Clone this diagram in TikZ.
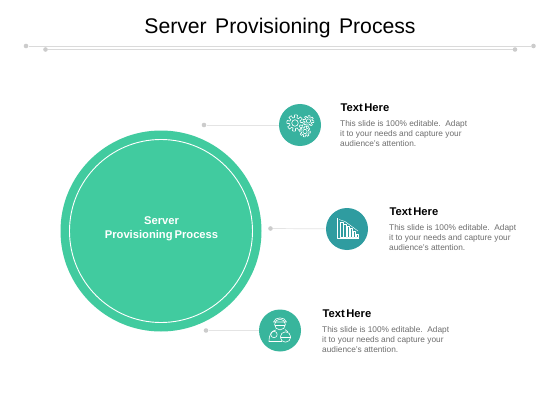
\documentclass[tikz,border=0pt]{standalone}
\usepackage{fontspec}
\setmainfont{Liberation Sans}
\newcommand{\gearicon}[4]{% cx cy r teeth
  \draw[iconline] plot[samples=121,domain=0:360] ({#1+#3*(1+0.2*sign(sin(\x*#4+30)))*cos(\x)},{#2+#3*(1+0.2*sign(sin(\x*#4+30)))*sin(\x)});
  \draw[iconline] (#1,#2) circle[radius=#3*0.48];
}
\tikzset{
  x=1pt,y=-1pt,
  guide/.style={draw=guidegray,line width=0.8pt},
  linkline/.style={draw=linkgray,line width=0.7pt},
  guidedot/.style={circle,fill=dotgray,inner sep=0pt,minimum size=4.6pt},
  hub/.style={circle,inner sep=0pt,minimum size=42pt},
  heading/.style={anchor=west,inner sep=0pt,font=\bfseries\fontsize{11.2}{13}\selectfont,text=black},
  body/.style={anchor=north west,inner sep=0pt,align=left,font=\fontsize{8.3}{10.3}\selectfont,text=bodygray},
  iconline/.style={draw=white,line width=0.6pt,line join=round},
}
\definecolor{guidegray}{HTML}{DADADA}
\definecolor{linkgray}{HTML}{E4E4E4}
\definecolor{dotgray}{HTML}{CCCCCC}
\definecolor{bigteal}{HTML}{41CB9F}
\definecolor{hubA}{HTML}{38B29F}
\definecolor{hubB}{HTML}{2F9CA0}
\definecolor{hubC}{HTML}{38B59C}
\definecolor{bodygray}{HTML}{6E6E6E}
\begin{document}
\begin{tikzpicture}
\useasboundingbox (0,0) rectangle (560,420);
\fill[white] (0,0) rectangle (560,420);
% title
\node[inner sep=0pt,font=\fontsize{21.2}{24}\selectfont,text=black] (title) at (280,28.3) {Server\hspace{2.5pt} Provisioning\hspace{2.5pt} Process};
% guides
\node[guidedot] (gl1) at (26,46) {};
\node[guidedot] (gr1) at (533.5,46) {};
\node[guidedot] (gl2) at (45.5,49.5) {};
\node[guidedot] (gr2) at (515,49.5) {};
\draw[guide] (gl1) -- (gr1);
\draw[guide] (gl2) -- (gr2);
% big circle
\node[circle,fill=bigteal,inner sep=0pt,minimum size=201pt] (big) at (161,231) {};
\node[circle,draw=white,line width=0.9pt,inner sep=0pt,minimum size=183pt] (bigin) at (161,231) {};
\node[inner sep=0pt,align=center,text=white,font=\bfseries\fontsize{11.2}{14}\selectfont] (bigtxt) at (161.5,228.8) {Server\\Provisioning\hspace{-1.2pt} Process};
% hubs and links
\node[guidedot] (d1) at (204,125) {};
\node[guidedot] (d2) at (270.5,228.5) {};
\node[guidedot] (d3) at (206,330.5) {};
\node[hub,fill=hubA] (h1) at (300,125) {};
\node[hub,fill=hubB] (h2) at (347,229) {};
\node[hub,fill=hubC] (h3) at (280,330.5) {};
\draw[linkline] (d1) -- (h1);
\draw[linkline] (d2) -- (h2);
\draw[linkline] (d3) -- (h3);
% texts
\node[heading] (t1) at (340.5,107.5) {Text\hspace{-1.6pt} Here};
\node[body] (b1) at (340,119.8) {This slide is 100\% editable.\ \ Adapt\\it to your needs and capture your\\audience's attention.};
\node[heading] (t2) at (389.5,211.5) {Text\hspace{-1.6pt} Here};
\node[body] (b2) at (389,223.8) {This slide is 100\% editable.\ \ Adapt\\it to your needs and capture your\\audience's attention.};
\node[heading] (t3) at (322.5,313.5) {Text\hspace{-1.6pt} Here};
\node[body] (b3) at (322,325.8) {This slide is 100\% editable.\ \ Adapt\\it to your needs and capture your\\audience's attention.};
% gear icon
\gearicon{295}{123}{6.8}{8}
\gearicon{308.5}{121}{4.5}{8}
\gearicon{305}{131.5}{4.5}{8}
% chart icon
\draw[iconline] (337,218) -- (337,238.5) -- (359,238.5);
\foreach \xa/\ya in {340.5/222.5,343.7/224,346.9/226,350.1/228.5,353.3/231.5,356/234}{
  \draw[iconline,line width=0.5pt] (\xa,237.5) rectangle ++(2.4,{\ya-237.5});
}
\draw[iconline,line width=0.45pt] (339,219.5) -- (345,221.5) -- (358,231);
% person icon
\draw[iconline] (280,324.5) circle[radius=5.4];
\draw[iconline] (273.5,322) .. controls (275,316.5) and (285,316.5) .. (286.5,322) -- cycle;
\draw[iconline] (275,325) -- (285,325);
\draw[iconline] (276,330) .. controls (272,330.5) and (269,334) .. (269,341.5) -- (282,341.5);
\draw[iconline] (285,329.5) -- (288,332);
\draw[iconline] (274,334.5) circle[radius=3.2];
\draw[iconline,fill=hubC] (285.5,337) circle[radius=5.2];
\draw[iconline] (280.5,337) -- (290.5,337);
\end{tikzpicture}
\end{document}
